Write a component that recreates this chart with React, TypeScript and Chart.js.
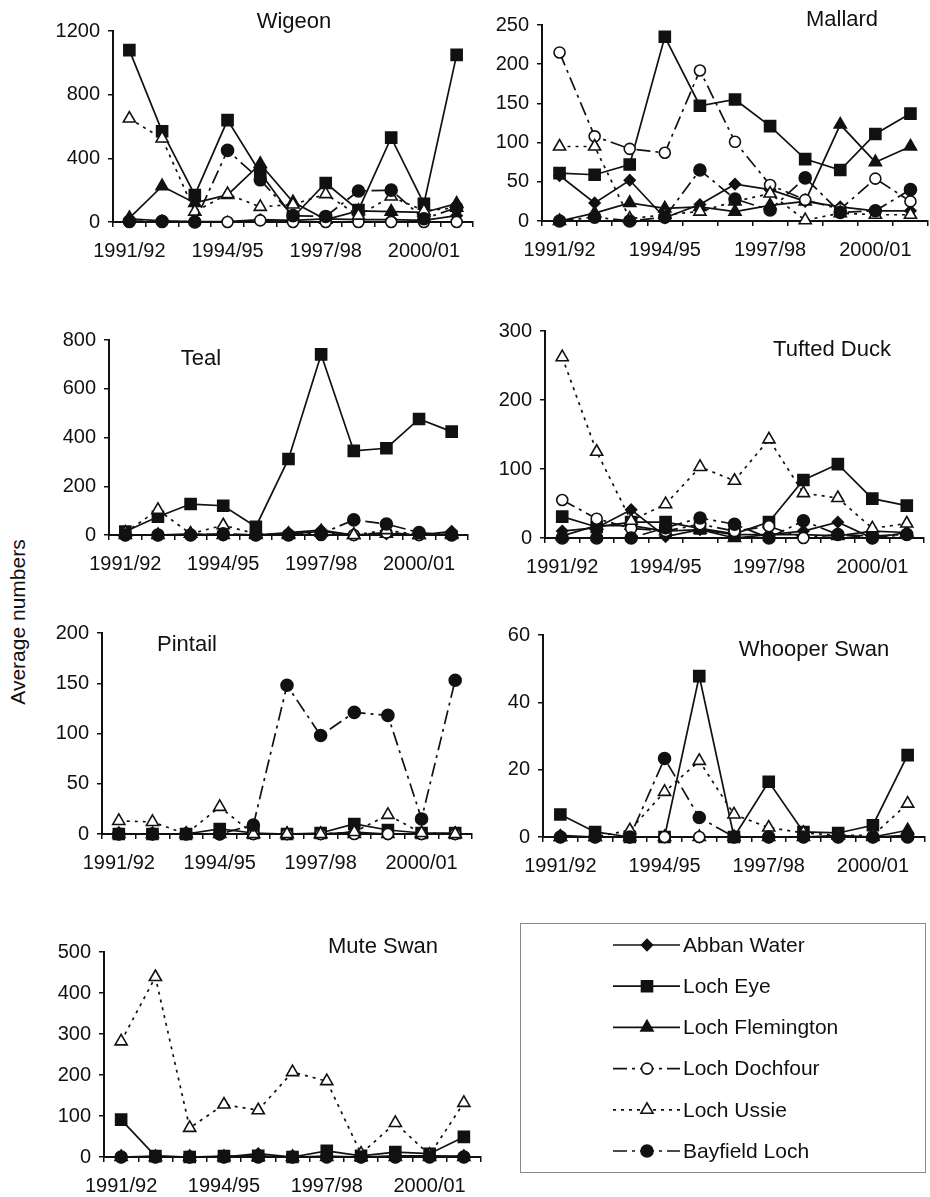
import React, { useEffect, useRef } from 'react';
import { Chart, registerables } from 'chart.js';
import { drawPoint } from 'chart.js/helpers';

Chart.register(...registerables);

const FONT = "'Liberation Sans', Arial, Helvetica, sans-serif";
const INK = '#111';

// ---- categories ----
const seasons = ['1991/92', '1992/93', '1993/94', '1994/95', '1995/96', '1996/97', '1997/98', '1998/99', '1999/00', '2000/01', '2001/02'];
const sites = ['Abban Water', 'Loch Eye', 'Loch Flemington', 'Loch Dochfour', 'Loch Ussie', 'Bayfield Loch'];

// ---- series values: one row per site, in the order of `sites` ----
const wigeonValues = [
  [20, 8, 3, 3, 15, 10, 20, 15, 15, 10, 40],
  [1080, 570, 170, 640, 310, 30, 245, 75, 530, 115, 1050],
  [25, 225, 120, 170, 365, 125, 15, 70, 65, 60, 115],
  [0, 0, 0, 0, 10, 0, 0, 0, 0, 0, 0],
  [650, 525, 65, 175, 95, 110, 175, 40, 160, 70, 90],
  [5, 5, 0, 450, 265, 40, 35, 195, 200, 20, 90],
];
const mallardValues = [
  [58, 23, 52, 4, 21, 47, 40, 25, 18, 13, 13],
  [61, 59, 72, 235, 147, 155, 121, 79, 65, 111, 137],
  [0, 10, 23, 16, 18, 12, 20, 25, 123, 75, 95],
  [215, 108, 92, 87, 192, 101, 46, 27, 15, 54, 25],
  [95, 95, 3, 8, 12, 25, 35, 1, 10, 8, 8],
  [0, 5, 0, 5, 65, 28, 14, 55, 11, 13, 40],
];
const tealValues = [
  [0, 0, 0, 0, 0, 10, 20, 0, 5, 0, 15],
  [14, 75, 127, 120, 34, 312, 741, 345, 356, 476, 424],
  [0, 0, 5, 0, 0, 5, 15, 0, 5, 0, 5],
  [0, 0, 0, 0, 0, 0, 0, 0, 10, 0, 0],
  [10, 103, 5, 40, 5, 0, 10, 0, 20, 0, 0],
  [0, 0, 0, 5, 0, 0, 5, 62, 45, 10, 0],
];
const tuftedValues = [
  [10, 15, 41, 2, 12, 5, 5, 10, 23, 0, 8],
  [31, 16, 23, 23, 14, 6, 23, 84, 107, 57, 47],
  [3, 18, 18, 10, 12, 0, 5, 5, 3, 10, 8],
  [55, 28, 14, 10, 20, 10, 17, 0, 5, 3, 5],
  [262, 125, 25, 49, 103, 83, 143, 65, 58, 14, 21],
  [0, 0, 0, 15, 29, 20, 0, 25, 5, 0, 5],
];
const pintailValues = [
  [0, 0, 0, 0, 0, 0, 0, 2, 0, 0, 0],
  [0, 0, 0, 5, 1, 0, 1, 10, 4, 1, 1],
  [0, 0, 0, 0, 0, 0, 0, 0, 0, 0, 0],
  [0, 0, 0, 0, 0, 0, 0, 0, 0, 0, 0],
  [13, 12, 0, 27, 0, 0, 0, 2, 19, 1, 0],
  [0, 0, 0, 0, 9, 148, 98, 121, 118, 15, 153],
];
const whooperValues = [
  [0.5, 0, 0, 0, 0, 0, 0, 0, 0, 0, 0.5],
  [6.7, 1.5, 0, 0, 47.8, 0, 16.4, 1.5, 1.2, 3.5, 24.3],
  [0, 0, 0, 0, 0, 0, 0, 0, 0.5, 0, 2],
  [0, 0, 0, 0, 0, 0, 0, 0, 0, 0, 0],
  [0, 0, 2, 13.4, 22.6, 6.7, 2.8, 1.2, 0.5, 0.5, 9.9],
  [0, 0, 0, 23.3, 5.8, 0, 0, 0, 0, 0, 0],
];
const muteValues = [
  [0, 2, 0, 0, 8, 0, 2, 0, 3, 3, 2],
  [91, 2, 0, 2, 3, 0, 15, 3, 12, 8, 49],
  [0, 0, 0, 0, 0, 0, 0, 0, 0, 0, 0],
  [0, 0, 0, 0, 0, 0, 0, 0, 0, 0, 0],
  [282, 439, 71, 128, 114, 207, 185, 8, 83, 5, 132],
  [0, 0, 0, 0, 0, 0, 0, 0, 0, 0, 0],
];

// ---- y-axis tick settings ----
const yMax = { wigeon: 1200, mallard: 250, teal: 800, tufted: 300, pintail: 200, whooper: 60, mute: 500 };
const yStep = { wigeon: 400, mallard: 50, teal: 200, tufted: 100, pintail: 50, whooper: 20, mute: 100 };

// ---- styles ----
type SiteStyle = { pointStyle: string; radius: number; filled: boolean; dash: number[] };
const siteStyles: SiteStyle[] = [
  { pointStyle: 'rectRot', radius: 5.5, filled: true, dash: [] },
  { pointStyle: 'rect', radius: 7.8, filled: true, dash: [] },
  { pointStyle: 'triangle', radius: 7, filled: true, dash: [] },
  { pointStyle: 'circle', radius: 5.5, filled: false, dash: [14, 5, 3, 5] },
  { pointStyle: 'triangle', radius: 7, filled: false, dash: [3, 5] },
  { pointStyle: 'circle', radius: 6, filled: true, dash: [14, 5, 3, 5] },
];

type PanelDef = {
  title: string;
  values: number[][];
  max: number;
  step: number;
  area: [number, number, number, number]; // left, top, right, bottom (page px)
  titlePos: [number, number]; // centre x, baseline y (page px)
};

const panels: PanelDef[] = [
  { title: 'Wigeon', values: wigeonValues, max: yMax.wigeon, step: yStep.wigeon, area: [113, 31, 473, 222], titlePos: [294, 28] },
  { title: 'Mallard', values: mallardValues, max: yMax.mallard, step: yStep.mallard, area: [542, 25, 928, 221], titlePos: [842, 26] },
  { title: 'Teal', values: tealValues, max: yMax.teal, step: yStep.teal, area: [109, 340, 468, 535], titlePos: [201, 365] },
  { title: 'Tufted Duck', values: tuftedValues, max: yMax.tufted, step: yStep.tufted, area: [545, 331, 924, 538], titlePos: [832, 356] },
  { title: 'Pintail', values: pintailValues, max: yMax.pintail, step: yStep.pintail, area: [102, 633, 472, 834], titlePos: [187, 651] },
  { title: 'Whooper Swan', values: whooperValues, max: yMax.whooper, step: yStep.whooper, area: [543, 635, 925, 837], titlePos: [814, 656] },
  { title: 'Mute Swan', values: muteValues, max: yMax.mute, step: yStep.mute, area: [104, 952, 481, 1157], titlePos: [383, 953] },
];

const PAD_L = 70;
const PAD_T = 35;
const PAD_R = 12;
const PAD_B = 45;
const Y_W = 60;
const X_H = 35;

const titlePlugin = {
  id: 'panelTitle',
  afterDraw(chart: any, _args: any, opts: any) {
    const ctx = chart.ctx;
    ctx.save();
    ctx.font = `22px ${FONT}`;
    ctx.fillStyle = INK;
    ctx.textAlign = 'center';
    ctx.textBaseline = 'alphabetic';
    ctx.fillText(opts.text, opts.x, opts.y);
    ctx.restore();
  },
};

function makeDatasets(values: number[][]) {
  return values.map((row, i) => {
    const s = siteStyles[i];
    return {
      label: sites[i],
      data: row,
      borderColor: INK,
      borderWidth: 1.7,
      borderDash: s.dash,
      pointStyle: s.pointStyle,
      pointRadius: s.radius,
      pointHoverRadius: s.radius,
      pointBackgroundColor: s.filled ? INK : '#fff',
      pointBorderColor: INK,
      pointBorderWidth: 1.6,
      tension: 0,
      fill: false,
      clip: false,
      order: values.length - 1 - i,
    };
  });
}

function Panel({ def }: { def: PanelDef }) {
  const ref = useRef<HTMLCanvasElement>(null);
  const [l, t, r, b] = def.area;
  const left = l - PAD_L;
  const top = t - PAD_T;
  const width = r - l + PAD_L + PAD_R;
  const height = b - t + PAD_T + PAD_B;

  useEffect(() => {
    if (!ref.current) return;
    const tickFont = { family: FONT, size: 20 };
    const chart = new Chart(ref.current, {
      type: 'line',
      data: { labels: seasons, datasets: makeDatasets(def.values) as any },
      options: {
        responsive: false,
        maintainAspectRatio: false,
        animation: false,
        events: [],
        layout: { padding: { left: PAD_L - Y_W, top: PAD_T, right: PAD_R, bottom: PAD_B - X_H } },
        scales: {
          x: {
            type: 'category',
            offset: true,
            grid: { offset: true, drawOnChartArea: false, drawTicks: true, tickLength: 5, color: INK, lineWidth: 1.5 },
            border: { display: true, color: INK, width: 2 },
            ticks: {
              autoSkip: false,
              maxRotation: 0,
              minRotation: 0,
              padding: 12,
              color: INK,
              font: tickFont,
              callback: (_v: any, i: number) => (i % 3 === 0 ? seasons[i] : ''),
            },
            afterFit: (s: any) => { s.height = X_H; },
          },
          y: {
            min: 0,
            max: def.max,
            grid: { drawOnChartArea: false, drawTicks: true, tickLength: 5, color: INK, lineWidth: 1.5 },
            border: { display: true, color: INK, width: 2 },
            ticks: { stepSize: def.step, padding: 8, color: INK, font: tickFont, callback: (v: any) => String(v) },
            afterFit: (s: any) => { s.width = Y_W; },
          },
        },
        plugins: {
          legend: { display: false },
          tooltip: { enabled: false },
          panelTitle: { text: def.title, x: def.titlePos[0] - left, y: def.titlePos[1] - top },
        } as any,
      },
      plugins: [titlePlugin],
    });
    return () => chart.destroy();
  }, []);

  return (
    <canvas
      ref={ref}
      width={width}
      height={height}
      style={{ position: 'absolute', left, top, width, height }}
    />
  );
}

const legendPlugin = {
  id: 'siteLegend',
  afterDraw(chart: any) {
    const ctx = chart.ctx;
    const w = chart.width;
    const h = chart.height;
    ctx.save();
    ctx.strokeStyle = '#8a8a8a';
    ctx.lineWidth = 1;
    ctx.strokeRect(0.5, 0.5, w - 1, h - 1);
    chart.data.datasets.forEach((ds: any, i: number) => {
      const y = 22 + i * 41.2;
      ctx.strokeStyle = INK;
      ctx.lineWidth = 1.7;
      ctx.setLineDash(ds.borderDash || []);
      ctx.beginPath();
      ctx.moveTo(93, y);
      ctx.lineTo(160, y);
      ctx.stroke();
      ctx.setLineDash([]);
      ctx.fillStyle = ds.pointBackgroundColor;
      ctx.strokeStyle = INK;
      ctx.lineWidth = 1.6;
      drawPoint(ctx, { pointStyle: ds.pointStyle, radius: ds.pointRadius, rotation: 0, borderWidth: 1.6 } as any, 127, y);
      ctx.fillStyle = INK;
      ctx.font = `21px ${FONT}`;
      ctx.textAlign = 'left';
      ctx.textBaseline = 'middle';
      ctx.fillText(ds.label, 163, y + 1);
    });
    ctx.restore();
  },
};

function Legend() {
  const ref = useRef<HTMLCanvasElement>(null);
  const left = 520;
  const top = 923;
  const width = 406;
  const height = 250;
  useEffect(() => {
    if (!ref.current) return;
    const chart = new Chart(ref.current, {
      type: 'line',
      data: { labels: [], datasets: makeDatasets(siteStyles.map(() => [])) as any },
      options: {
        responsive: false,
        maintainAspectRatio: false,
        animation: false,
        events: [],
        scales: { x: { display: false }, y: { display: false } },
        plugins: { legend: { display: false }, tooltip: { enabled: false } },
      },
      plugins: [legendPlugin],
    });
    return () => chart.destroy();
  }, []);
  return (
    <canvas ref={ref} width={width} height={height} style={{ position: 'absolute', left, top, width, height }} />
  );
}

export default function App() {
  return (
    <div style={{ position: 'absolute', left: 0, top: 0, width: 930, height: 1197, overflow: 'hidden', background: '#fff' }}>
      {panels.map((p) => (
        <Panel key={p.title} def={p} />
      ))}
      <Legend />
      <div
        style={{
          position: 'absolute',
          left: 18,
          top: 622,
          transform: 'translate(-50%, -50%) rotate(-90deg)',
          whiteSpace: 'nowrap',
          fontFamily: FONT,
          fontSize: 21,
          color: INK,
        }}
      >
        Average numbers
      </div>
    </div>
  );
}
